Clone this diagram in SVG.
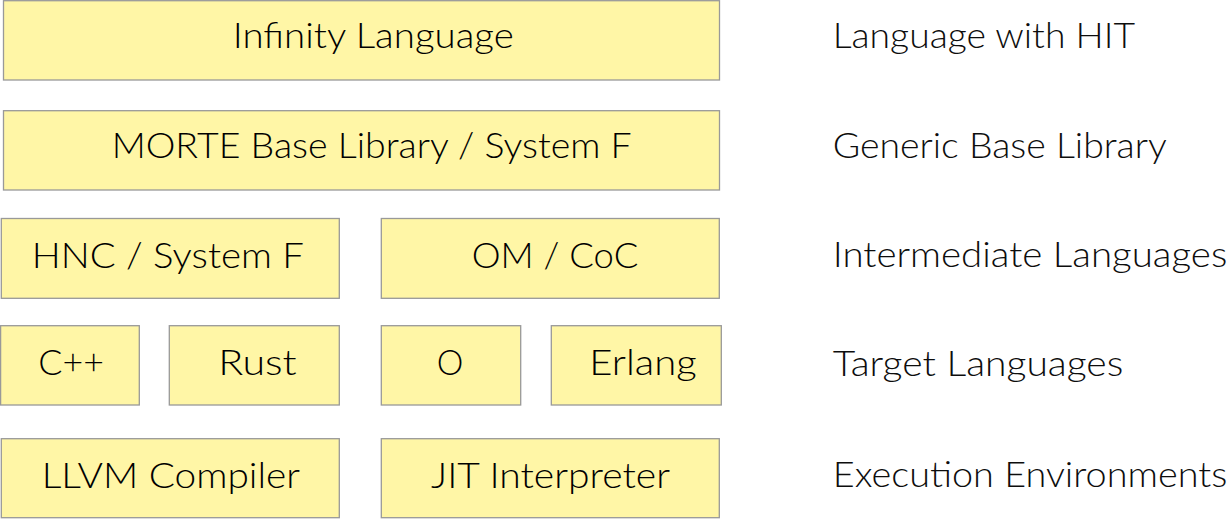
<svg xmlns="http://www.w3.org/2000/svg" width="1229" height="519" viewBox="0 0 1229 519">
<style>
.box{fill:#fff6a6;stroke:#999999;stroke-width:1.3}
.t{font-family:Lato,"Liberation Sans",sans-serif;font-weight:300;font-size:35.5px;fill:#000000}
.l{font-family:Lato,"Liberation Sans",sans-serif;font-weight:300;font-size:35.5px;fill:#0d0d0d}
</style>
<rect width="1229" height="519" fill="#ffffff"/>
<g id="infinity"><rect class="box" x="3.5" y="0.7" width="716" height="79.3"/><text class="t" x="232.7" y="48.3" textLength="281" lengthAdjust="spacingAndGlyphs">Infinity Language</text></g>
<g id="morte"><rect class="box" x="3.5" y="110.7" width="716" height="79.3"/><text class="t" x="111.7" y="158.3" textLength="520" lengthAdjust="spacingAndGlyphs">MORTE Base Library / System F</text></g>
<g id="hnc"><rect class="box" x="1.3" y="218.5" width="338" height="79.8"/><text class="t" x="31.7" y="268.3" textLength="272.3" lengthAdjust="spacingAndGlyphs">HNC / System F</text></g>
<g id="om"><rect class="box" x="381.3" y="218.5" width="338" height="79.8"/><text class="t" x="471.7" y="268.3" textLength="166.6" lengthAdjust="spacingAndGlyphs">OM / CoC</text></g>
<g id="cpp"><rect class="box" x="0.6" y="325.7" width="138.7" height="79.3"/><text class="t" x="38.3" y="375" textLength="65.7" lengthAdjust="spacingAndGlyphs">C++</text></g>
<g id="rust"><rect class="box" x="169.3" y="325.7" width="170" height="79.3"/><text class="t" x="218.3" y="375" textLength="78.4" lengthAdjust="spacingAndGlyphs">Rust</text></g>
<g id="o"><rect class="box" x="381.3" y="325.7" width="139.4" height="79.3"/><text class="t" x="436.7" y="375" textLength="26.6" lengthAdjust="spacingAndGlyphs">O</text></g>
<g id="erlang"><rect class="box" x="551.3" y="325.7" width="170" height="79.3"/><text class="t" x="589.3" y="375" textLength="107.4" lengthAdjust="spacingAndGlyphs">Erlang</text></g>
<g id="llvm"><rect class="box" x="1.3" y="438.7" width="338" height="79"/><text class="t" x="41.7" y="487.7" textLength="258.3" lengthAdjust="spacingAndGlyphs">LLVM Compiler</text></g>
<g id="jit"><rect class="box" x="381.3" y="438.7" width="338" height="79"/><text class="t" x="431" y="487.7" textLength="239" lengthAdjust="spacingAndGlyphs">JIT Interpreter</text></g>
<g id="labels">
<text class="l" x="832.7" y="48.3" textLength="302.3" lengthAdjust="spacingAndGlyphs">Language with HIT</text>
<text class="l" x="832.7" y="158.3" textLength="334" lengthAdjust="spacingAndGlyphs">Generic Base Library</text>
<text class="l" x="832.7" y="266.5" textLength="394.6" lengthAdjust="spacingAndGlyphs">Intermediate Languages</text>
<text class="l" x="832.7" y="375.5" textLength="290.6" lengthAdjust="spacingAndGlyphs">Target Languages</text>
<text class="l" x="832.7" y="486.5" textLength="394.6" lengthAdjust="spacingAndGlyphs">Execution Environments</text>
</g>
<g id="connectors"/>
</svg>
